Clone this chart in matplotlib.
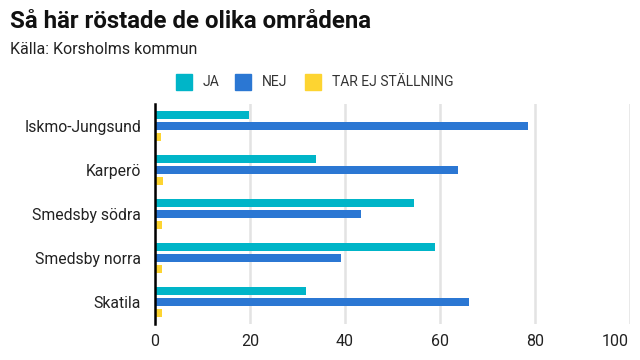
import matplotlib
matplotlib.use("Agg")
import matplotlib.pyplot as plt
import numpy as np
from matplotlib.patches import Rectangle
from matplotlib.transforms import ScaledTranslation

categories = ["Iskmo-Jungsund", "Karperö", "Smedsby södra", "Smedsby norra", "Skatila"]
ja = [19.8, 33.9, 54.5, 58.9, 31.8]
nej = [78.5, 63.8, 43.4, 39.2, 66.1]
tar = [1.3, 1.7, 1.5, 1.5, 1.5]
series_names = ["JA", "NEJ", "TAR EJ STÄLLNING"]
colors = ["#00b5c8", "#2b77d3", "#fdd431"]
xticks = [0, 20, 40, 60, 80, 100]

plt.rcParams['font.family'] = ['Roboto', 'DejaVu Sans']

fig = plt.figure(figsize=(6.4, 3.6), dpi=100)
ax = fig.add_axes([155/640, 36/360, 475/640, 220/360])

y = np.arange(len(categories))
h = 0.2
for off, vals, c in zip([-0.25, 0, 0.25], [ja, nej, tar], colors):
    ax.barh(y + off, vals, height=h, color=c, zorder=3)

ax.set_xlim(0, 100)
ax.set_ylim(len(categories) - 0.5, -0.5)
ax.set_yticks(y)
ax.set_yticklabels(categories, fontsize=11.3, color="#222222")
ax.set_xticks(xticks)
ax.set_xticklabels([str(t) for t in xticks], fontsize=11.5, color="#222222")
ax.tick_params(length=0)
ax.tick_params(axis='x', pad=7)
ax.tick_params(axis='y', pad=10)
# shift last x label left so it stays inside the figure
last = ax.get_xticklabels()[-1]
last.set_transform(last.get_transform() + ScaledTranslation(-15/100, 0, fig.dpi_scale_trans))
ax.grid(axis='x', color="#e3e3e3", linewidth=1.8, zorder=0)
for s in ["top", "right", "bottom"]:
    ax.spines[s].set_visible(False)
ax.spines["left"].set_linewidth(1.8)
ax.spines["left"].set_color("#000000")
ax.spines["left"].set_zorder(4)

fig.text(10/640, 1 - 22/360, "Så här röstade de olika områdena", fontsize=17.3, fontweight="bold",
         va="center", ha="left", color="#111111")
fig.text(10/640, 1 - 50/360, "Källa: Korsholms kommun", fontsize=11.5, va="center", ha="left",
         color="#222222")

# legend
lx = [176, 235, 305]
for x0, name, c in zip(lx, series_names, colors):
    fig.patches.append(Rectangle((x0/640, 1 - 90/360), 16/640, 16/360, color=c,
                                 transform=fig.transFigure, figure=fig))
    fig.text((x0 + 27)/640, 1 - 82/360, name, fontsize=10, va="center", ha="left",
             color="#333333")

fig.savefig("out.png", dpi=100)
